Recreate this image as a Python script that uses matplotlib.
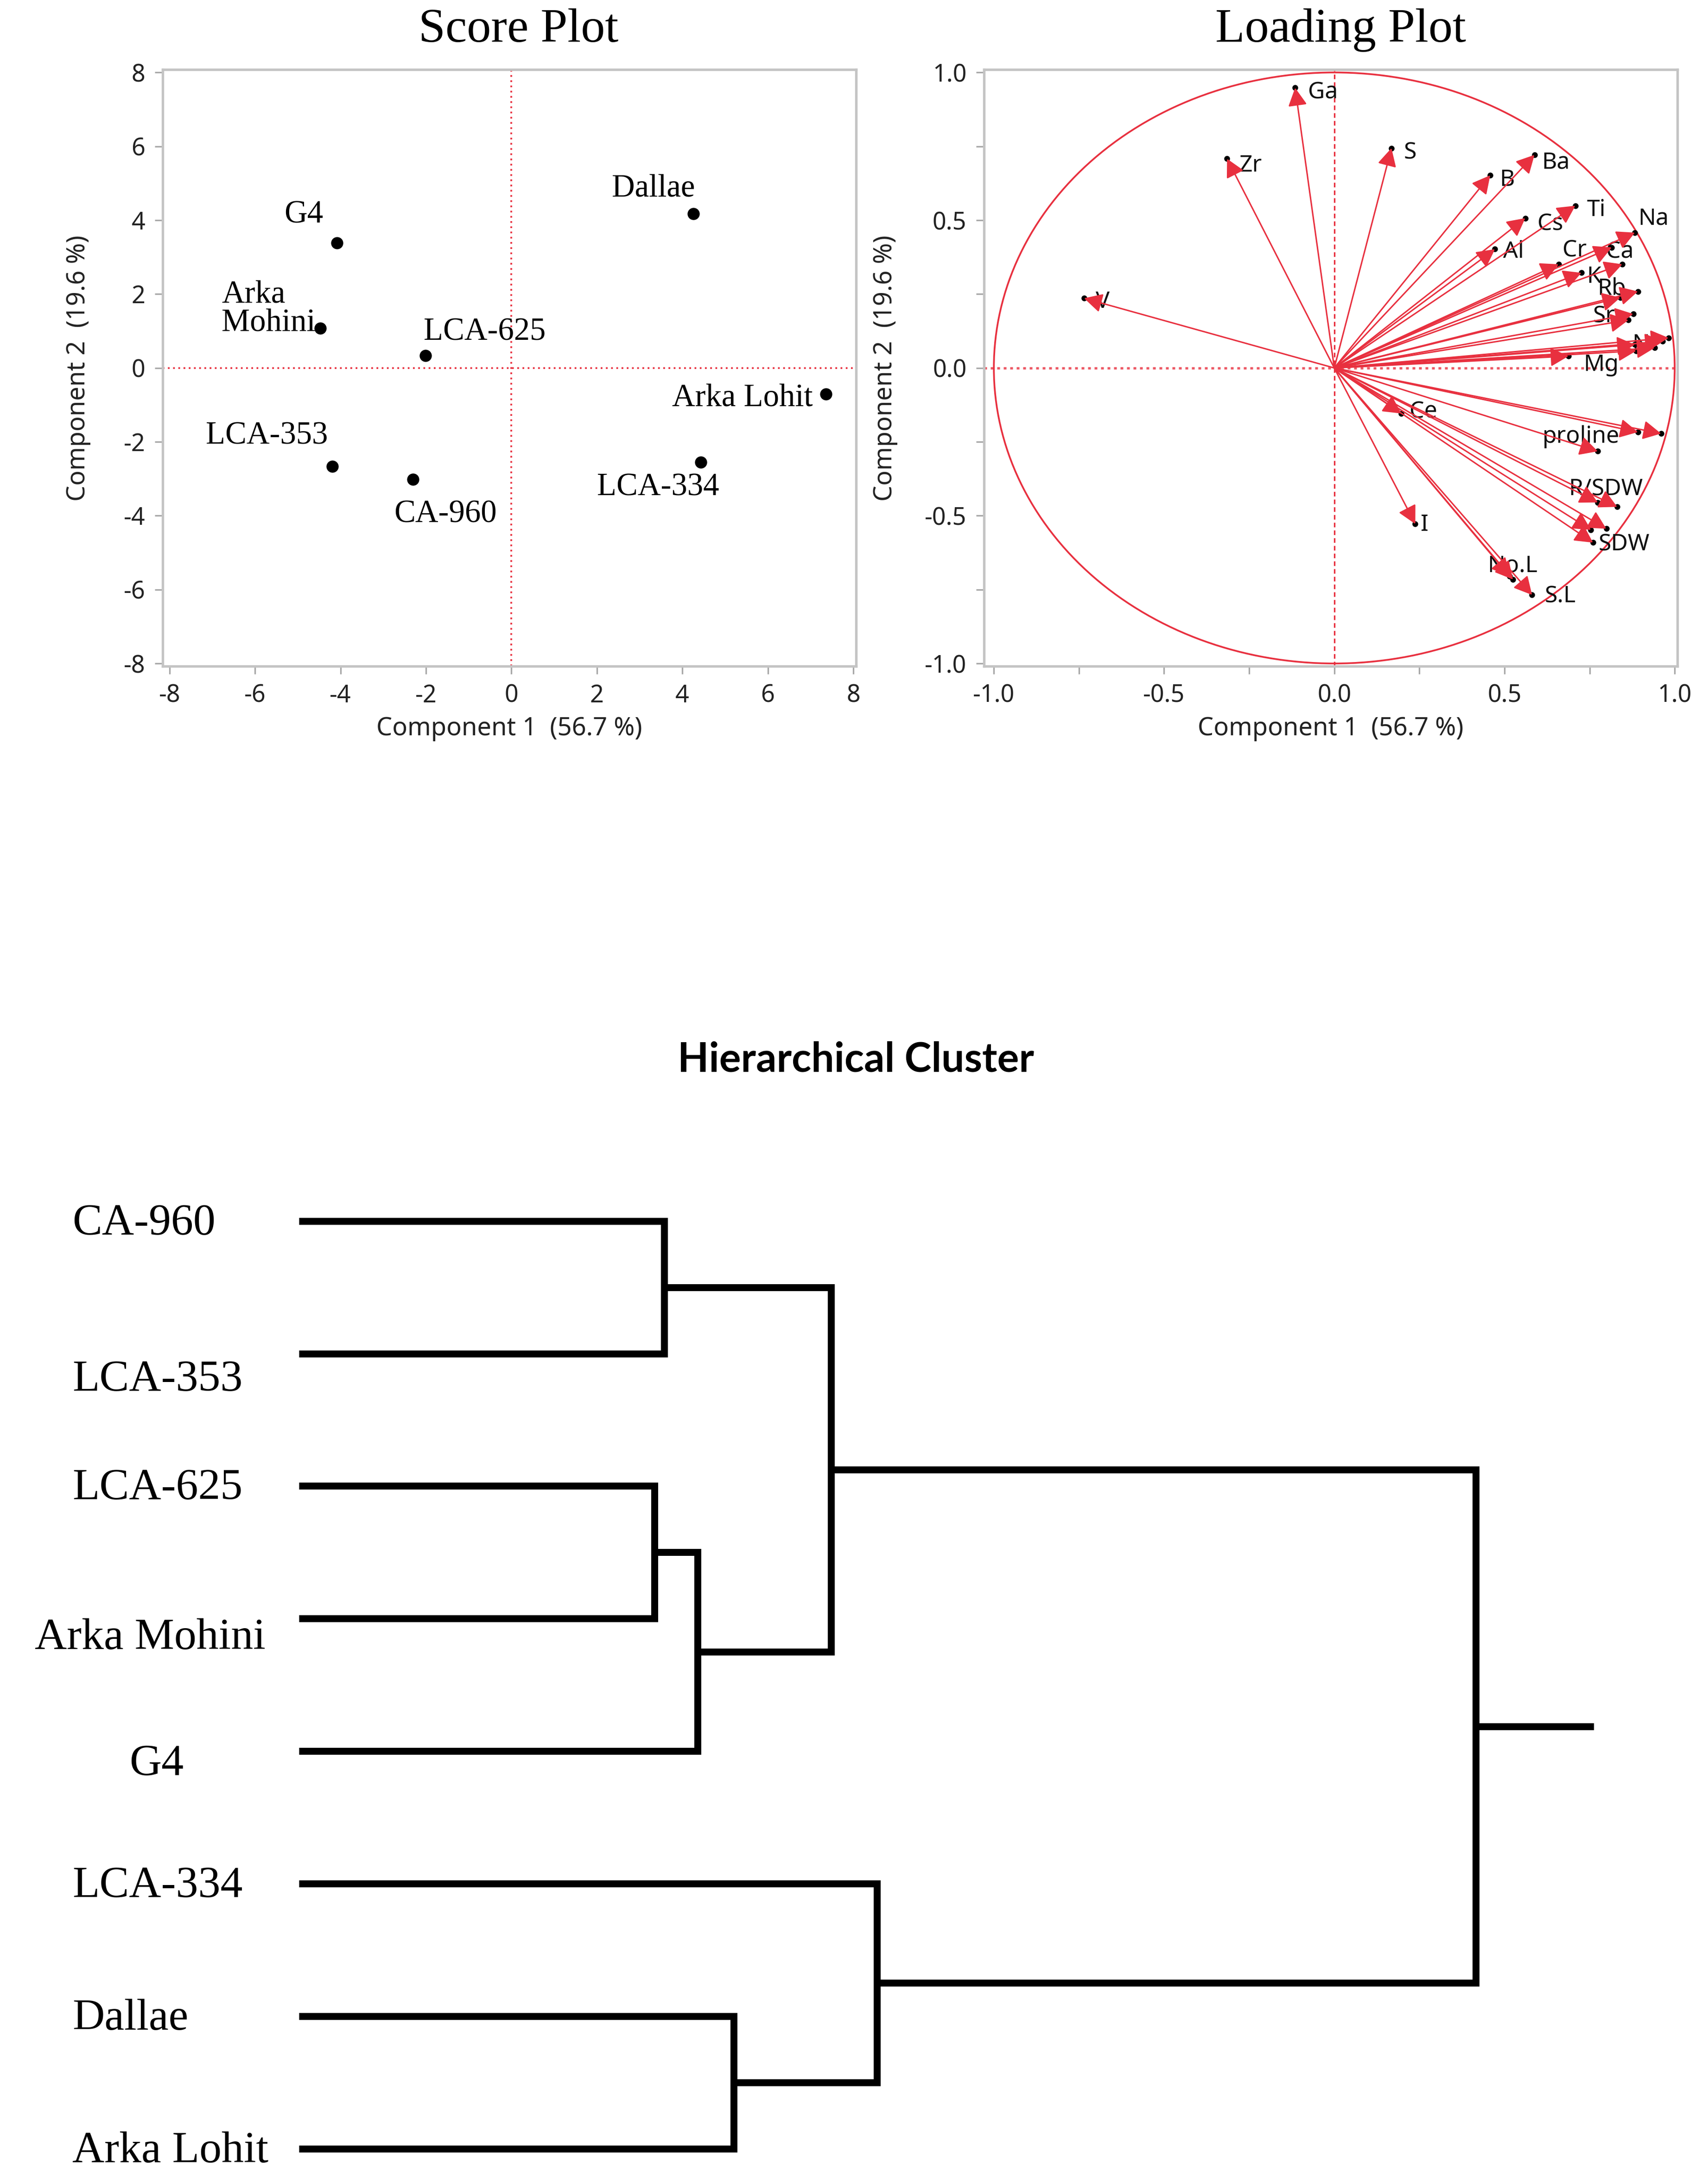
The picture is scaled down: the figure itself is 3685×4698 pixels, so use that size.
import numpy as np
import matplotlib
matplotlib.use("Agg")
import matplotlib.pyplot as plt
from matplotlib.patches import Ellipse

plt.rcParams["axes.unicode_minus"] = False

# ---- score plot data ----
genotypes = ["G4", "Arka\nMohini", "LCA-625", "Dallae", "Arka Lohit", "LCA-353", "CA-960", "LCA-334"]
score_pc1 = [-4.08, -4.47, -2.01, 4.26, 7.36, -4.19, -2.30, 4.43]
score_pc2 = [3.39, 1.08, 0.34, 4.18, -0.71, -2.67, -3.02, -2.55]

# ---- loading plot data ----
variables = ["Ga", "Zr", "S", "Ba", "B", "Cs", "Ti", "Al", "Na", "Cr", "Ca", "", "K",
             "Rb", "", "Sr", "", "N", "", "", "", "", "Mg", "V", "Ce", "I", "No.L", "",
             "S.L", "proline", "", "", "R/SDW", "", "SDW", "", ""]
load_pc1 = [-0.115, -0.315, 0.168, 0.588, 0.458, 0.561, 0.708, 0.472, 0.883, 0.659, 0.815, 0.846, 0.726,
            0.892, 0.840, 0.878, 0.864, 0.982, 0.965, 0.941, 0.883, 0.887, 0.688, -0.735, 0.197, 0.238, 0.525, 0.515,
            0.581, 0.774, 0.892, 0.960, 0.774, 0.831, 0.799, 0.754, 0.760]
load_pc2 = [0.948, 0.708, 0.744, 0.721, 0.652, 0.507, 0.549, 0.402, 0.458, 0.351, 0.408, 0.351, 0.322,
            0.259, 0.238, 0.183, 0.162, 0.102, 0.090, 0.068, 0.079, 0.058, 0.040, 0.236, -0.154, -0.528, -0.716, -0.705,
            -0.768, -0.282, -0.217, -0.222, -0.455, -0.470, -0.544, -0.548, -0.591]

# ---- dendrogram data ----
leaves = ["CA-960", "LCA-353", "LCA-625", "Arka Mohini", "G4", "LCA-334", "Dallae", "Arka Lohit"]
merge_a = [0, 2, 9, 8, 6, 5, 11]
merge_b = [1, 3, 4, 10, 7, 12, 13]
merge_height = [2.63, 2.56, 2.87, 3.83, 3.13, 4.16, 8.47]

red = "#e8303f"
serif = "Liberation Serif"
sans = "Noto Sans"

fig = plt.figure(figsize=(3685 / 300, 4698 / 300), dpi=300)


def style_axes(ax):
    for s in ax.spines.values():
        s.set_color("#c4c4c4")
        s.set_linewidth(1.3)
    ax.tick_params(direction="out", length=4, width=0.8, color="#a8a8a8",
                   labelsize=12.5, labelcolor="#222222", pad=5)
    for lab in ax.get_xticklabels() + ax.get_yticklabels():
        lab.set_family(sans)


# ---------------- Score plot ----------------
ax1 = fig.add_axes([0.0952, 0.6941, 0.4060, 0.2739])
ax1.set_xlim(-8.163, 8.065)
ax1.set_ylim(-8.075, 8.075)
ax1.set_xticks(np.arange(-8, 9, 2))
ax1.set_yticks(np.arange(-8, 9, 2))
ax1.axhline(0, color=red, ls=(0, (1, 2)), lw=0.9, zorder=1)
ax1.axvline(0, color=red, ls=(0, (1, 2)), lw=0.9, zorder=1)
ax1.plot(score_pc1, score_pc2, "o", color="black", markersize=5.3, zorder=3)

score_label_pos = {"G4": (-4.86, 4.14, "center"), "Arka\nMohini": (-6.78, 1.59, "left"),
                   "LCA-625": (-2.05, 0.97, "left"), "Dallae": (3.32, 4.84, "center"),
                   "Arka Lohit": (7.05, -0.83, "right"), "LCA-353": (-5.72, -1.85, "center"),
                   "CA-960": (-1.55, -3.97, "center"), "LCA-334": (3.43, -3.24, "center")}
for name in genotypes:
    tx, ty, ha = score_label_pos[name]
    ax1.text(tx, ty, name, family=serif, fontsize=16.5, ha=ha, va="center",
             multialignment="left", linespacing=0.95, zorder=4)
style_axes(ax1)
ax1.xaxis.get_major_ticks()[4].tick1line.set_color(red)
ax1.set_xlabel("Component 1  (56.7 %)", family=sans, fontsize=13, color="#222222", labelpad=4)
ax1.set_ylabel("Component 2  (19.6 %)", family=sans, fontsize=13, color="#222222", labelpad=17)
fig.text(0.3035, 0.9862, "Score Plot", family=serif, fontsize=25, ha="center", va="center")

# ---------------- Loading plot ----------------
ax2 = fig.add_axes([0.5761, 0.6941, 0.4060, 0.2739])
ax2.set_xlim(-1.029, 1.008)
ax2.set_ylim(-1.0094, 1.0094)
ax2.set_xticks([-1.0, -0.5, 0.0, 0.5, 1.0])
ax2.set_yticks([-1.0, -0.5, 0.0, 0.5, 1.0])
ax2.set_xticks(np.arange(-0.75, 1.0, 0.5), minor=True)
ax2.set_yticks(np.arange(-0.75, 1.0, 0.5), minor=True)
ax2.xaxis.set_major_formatter(matplotlib.ticker.FormatStrFormatter("%.1f"))
ax2.yaxis.set_major_formatter(matplotlib.ticker.FormatStrFormatter("%.1f"))
ax2.add_patch(Ellipse((0, 0), 2, 2, fill=False, edgecolor=red, lw=0.9, zorder=1))
ax2.axhline(0, color=red, ls=(0, (1.2, 1.6)), lw=1.2, alpha=0.8, zorder=1)
ax2.axvline(0, color=red, ls=(0, (3, 2)), lw=0.8, zorder=1)

ax2.plot(load_pc1, load_pc2, "o", color="black", markersize=2.0, zorder=2.9)
for x, y in zip(load_pc1, load_pc2):
    ax2.annotate("", xy=(x, y), xytext=(0, 0),
                 arrowprops=dict(arrowstyle="-|>,head_length=0.4,head_width=0.21",
                                 color=red, lw=0.75, shrinkA=0, shrinkB=0,
                                 mutation_scale=20), zorder=3)

load_label_pos = {"Ga": (-0.033, 0.933), "Zr": (-0.246, 0.685), "S": (0.223, 0.729),
                  "Ba": (0.650, 0.696), "B": (0.507, 0.637), "Cs": (0.634, 0.487),
                  "Ti": (0.769, 0.534), "Al": (0.527, 0.393), "Na": (0.937, 0.505),
                  "Cr": (0.706, 0.398), "Ca": (0.839, 0.393), "K": (0.763, 0.309),
                  "Rb": (0.815, 0.269), "Sr": (0.792, 0.175), "N": (0.900, 0.079),
                  "Mg": (0.783, 0.011), "V": (-0.680, 0.224), "Ce": (0.262, -0.149),
                  "I": (0.265, -0.530), "No.L": (0.523, -0.669), "S.L": (0.664, -0.773),
                  "proline": (0.724, -0.232), "R/SDW": (0.797, -0.410), "SDW": (0.851, -0.598)}
for name in variables:
    if name:
        tx, ty = load_label_pos[name]
        ax2.text(tx, ty, name, family=sans, fontsize=12, ha="center", va="center",
                 color="#111111", zorder=2.5)
style_axes(ax2)
ax2.tick_params(which="minor", direction="out", length=4, width=0.8, color="#a8a8a8")
ax2.xaxis.get_major_ticks()[2].tick1line.set_color(red)
ax2.set_xlabel("Component 1  (56.7 %)", family=sans, fontsize=13, color="#222222", labelpad=4)
ax2.set_ylabel("Component 2  (19.6 %)", family=sans, fontsize=13, color="#222222", labelpad=14)
fig.text(0.785, 0.9862, "Loading Plot", family=serif, fontsize=25, ha="center", va="center")

# ---------------- Dendrogram ----------------
ax3 = fig.add_axes([0.1749, 0.0013, 0.7583, 0.4685])
ax3.set_xlim(0, 9.32)
ax3.set_ylim(7.2, -0.5)
ax3.axis("off")

node_y = {i: float(i) for i in range(len(leaves))}
node_h = {i: 0.0 for i in range(len(leaves))}
for k, (a, b, h) in enumerate(zip(merge_a, merge_b, merge_height)):
    nid = len(leaves) + k
    ax3.plot([node_h[a], h, h, node_h[b]], [node_y[a], node_y[a], node_y[b], node_y[b]],
             color="black", lw=3.6, solid_joinstyle="miter", solid_capstyle="butt")
    node_y[nid] = (node_y[a] + node_y[b]) / 2
    node_h[nid] = h
root = len(leaves) + len(merge_height) - 1
ax3.plot([node_h[root], 9.32], [node_y[root], node_y[root]], color="black", lw=3.6,
         solid_capstyle="butt")

leaf_label_x = {"Arka Mohini": -1.90, "G4": -1.22}
leaf_label_dy = {"LCA-353": 0.2, "Arka Mohini": 0.15, "G4": 0.1}
for i, name in enumerate(leaves):
    ax3.text(leaf_label_x.get(name, -1.63), i + leaf_label_dy.get(name, 0.02), name,
             family=serif, fontsize=23, ha="left", va="center", clip_on=False)

fig.text(0.501, 0.5134, "Hierarchical Cluster", family="Lato", fontweight="bold",
         fontsize=21, ha="center", va="center")

fig.savefig("out.png", dpi=300, facecolor="white")
